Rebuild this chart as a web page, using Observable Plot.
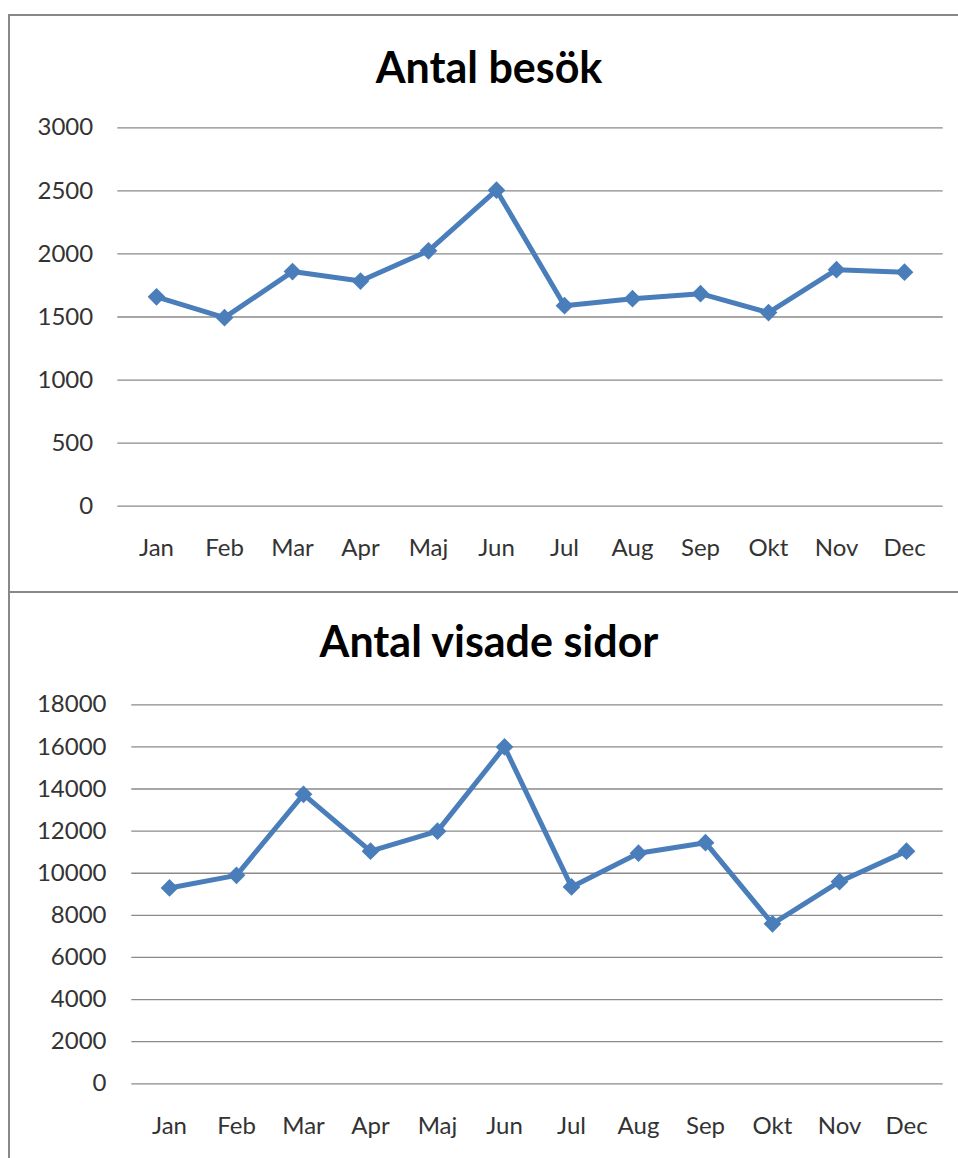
<!DOCTYPE html>
<html>
<head>
<meta charset="utf-8">
<script src="https://cdn.jsdelivr.net/npm/d3@7"></script>
<script src="https://cdn.jsdelivr.net/npm/@observablehq/plot@0.6"></script>
<style>
  html, body { margin: 0; padding: 0; background: #fff; overflow: hidden; }
  body { width: 958px; height: 1158px; position: relative; }
  .panel { position: absolute; left: 8px; width: 1000px; box-sizing: border-box; border: 2px solid #888888; background: #fff; }
  .title { position: absolute; left: -11px; width: 1000px; text-align: center; font-family: Lato, "Open Sans", sans-serif; font-weight: bold; font-size: 43px; line-height: 43px; color: #000; white-space: nowrap; }
  .chart { position: absolute; left: 0; }
</style>
</head>
<body>
<div class="panel" style="top:14px; height:579px;"></div>
<div class="panel" style="top:591px; height:700px;"></div>
<div class="title" style="top:45px;">Antal besök</div>
<div class="title" style="top:619px;">Antal visade sidor</div>
<div id="c1" class="chart" style="top:100px;"></div>
<div id="c2" class="chart" style="top:680px;"></div>
<script>
const months = ["Jan", "Feb", "Mar", "Apr", "Maj", "Jun", "Jul", "Aug", "Sep", "Okt", "Nov", "Dec"];
const besok = [1660, 1495, 1860, 1785, 2025, 2505, 1590, 1645, 1685, 1535, 1875, 1855];
const sidor = [9300, 9900, 13750, 11050, 12000, 16000, 9350, 10950, 11450, 7600, 9600, 11050];
const besokTicks = [0, 500, 1000, 1500, 2000, 2500, 3000];
const sidorTicks = [0, 2000, 4000, 6000, 8000, 10000, 12000, 14000, 16000, 18000];

function chart(values, ticks, opts) {
  const data = months.map((m, i) => ({month: m, value: values[i]}));
  return Plot.plot({
    width: 958,
    height: 470,
    marginTop: opts.marginTop,
    marginBottom: opts.marginBottom,
    marginLeft: opts.marginLeft,
    marginRight: 15.3,
    style: {fontFamily: "Lato, 'Open Sans', sans-serif", fontSize: "24px", color: "#333333", background: "transparent", overflow: "visible"},
    x: {type: "point", domain: months, padding: 0.5, label: null},
    y: {domain: [0, ticks[ticks.length - 1]], label: null},
    marks: [
      Plot.ruleY(ticks, {stroke: "#8a8a8a", strokeWidth: 1.3}),
      Plot.axisX({tickSize: 0, tickPadding: 33, label: null, fontSize: 24}),
      Plot.axisY({ticks: ticks, tickSize: 0, tickPadding: opts.yPad, tickFormat: d => String(d), label: null, fontSize: 24}),
      Plot.line(data, {x: "month", y: "value", stroke: "#4a7ebb", strokeWidth: 5, strokeLinejoin: "miter"}),
      Plot.dot(data, {x: "month", y: "value", symbol: "diamond2", r: 8, fill: "#4a7ebb", stroke: "none"})
    ]
  });
}

document.getElementById("c1").appendChild(chart(besok, besokTicks, {marginTop: 27.3, marginBottom: 64.3, marginLeft: 117.3, yPad: 24.6}));
document.getElementById("c2").appendChild(chart(sidor, sidorTicks, {marginTop: 24.3, marginBottom: 66.7, marginLeft: 131.3, yPad: 25.3}));
</script>
</body>
</html>
